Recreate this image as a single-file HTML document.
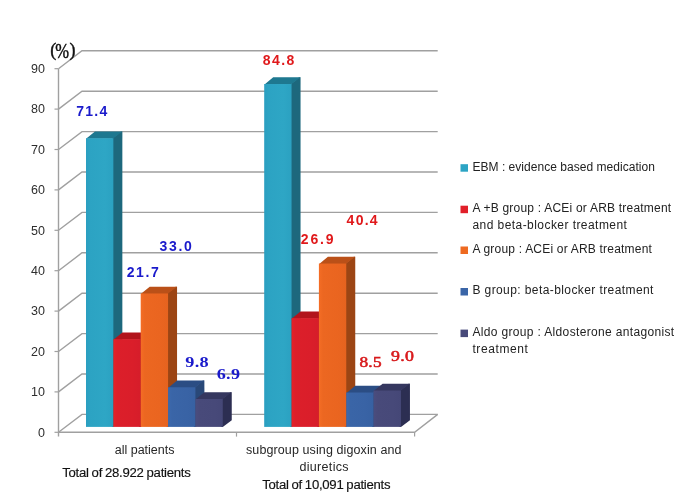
<!DOCTYPE html>
<html><head><meta charset="utf-8"><style>
html,body{margin:0;padding:0;background:#fff;}
body{width:685px;height:502px;overflow:hidden;position:relative;font-family:"Liberation Sans",sans-serif;}
svg{position:absolute;left:0;top:0;will-change:transform;}
.yl{font-size:12.5px;fill:#2e2e2e;}
.v{font-size:14px;font-weight:bold;letter-spacing:0.9px;}
.b{fill:#1a1acb;}
.r{fill:#e0191b;}
.pc{font-family:"Liberation Serif",serif;font-size:18px;fill:#111;stroke:#111;stroke-width:0.4px;}
.cl{font-size:12.5px;fill:#262626;}
.tot{font-size:12px;fill:#111;stroke:#111;stroke-width:0.15px;letter-spacing:-0.25px;word-spacing:-0.4px;}
.lg{font-size:12px;fill:#222;}
</style></head><body>
<svg width="685" height="502" viewBox="0 0 685 502">
<defs><linearGradient id="g0" x1="0" y1="0" x2="1" y2="0"><stop offset="0" stop-color="#2a9ec0"/><stop offset="0.15" stop-color="#2ca3c3"/><stop offset="0.7" stop-color="#2ea6c5"/><stop offset="1" stop-color="#2ba1c1"/></linearGradient><linearGradient id="g1" x1="0" y1="0" x2="1" y2="0"><stop offset="0" stop-color="#e52127"/><stop offset="0.15" stop-color="#dc1f2a"/><stop offset="0.7" stop-color="#da1e2a"/><stop offset="1" stop-color="#d61d2a"/></linearGradient><linearGradient id="g2" x1="0" y1="0" x2="1" y2="0"><stop offset="0" stop-color="#f46d25"/><stop offset="0.15" stop-color="#ec6721"/><stop offset="0.7" stop-color="#ea6520"/><stop offset="1" stop-color="#e6631f"/></linearGradient><linearGradient id="g3" x1="0" y1="0" x2="1" y2="0"><stop offset="0" stop-color="#3d69ad"/><stop offset="0.15" stop-color="#3a65a7"/><stop offset="0.7" stop-color="#3963a5"/><stop offset="1" stop-color="#3761a2"/></linearGradient><linearGradient id="g4" x1="0" y1="0" x2="1" y2="0"><stop offset="0" stop-color="#4b4d7e"/><stop offset="0.15" stop-color="#484a7a"/><stop offset="0.7" stop-color="#474979"/><stop offset="1" stop-color="#454777"/></linearGradient></defs>
<path d="M58.5 432.3L82 414.4H437.7" fill="none" stroke="#a0a0a0" stroke-width="1.4"/>
<path d="M54.5 432.3H58.5" stroke="#a0a0a0" stroke-width="1.2"/>
<path d="M58.5 391.9L82 374H437.7" fill="none" stroke="#a0a0a0" stroke-width="1.4"/>
<path d="M54.5 391.9H58.5" stroke="#a0a0a0" stroke-width="1.2"/>
<path d="M58.5 351.5L82 333.6H437.7" fill="none" stroke="#a0a0a0" stroke-width="1.4"/>
<path d="M54.5 351.5H58.5" stroke="#a0a0a0" stroke-width="1.2"/>
<path d="M58.5 311.1L82 293.2H437.7" fill="none" stroke="#a0a0a0" stroke-width="1.4"/>
<path d="M54.5 311.1H58.5" stroke="#a0a0a0" stroke-width="1.2"/>
<path d="M58.5 270.7L82 252.8H437.7" fill="none" stroke="#a0a0a0" stroke-width="1.4"/>
<path d="M54.5 270.7H58.5" stroke="#a0a0a0" stroke-width="1.2"/>
<path d="M58.5 230.3L82 212.4H437.7" fill="none" stroke="#a0a0a0" stroke-width="1.4"/>
<path d="M54.5 230.3H58.5" stroke="#a0a0a0" stroke-width="1.2"/>
<path d="M58.5 189.9L82 172H437.7" fill="none" stroke="#a0a0a0" stroke-width="1.4"/>
<path d="M54.5 189.9H58.5" stroke="#a0a0a0" stroke-width="1.2"/>
<path d="M58.5 149.5L82 131.6H437.7" fill="none" stroke="#a0a0a0" stroke-width="1.4"/>
<path d="M54.5 149.5H58.5" stroke="#a0a0a0" stroke-width="1.2"/>
<path d="M58.5 109.1L82 91.2H437.7" fill="none" stroke="#a0a0a0" stroke-width="1.4"/>
<path d="M54.5 109.1H58.5" stroke="#a0a0a0" stroke-width="1.2"/>
<path d="M58.5 68.7L82 50.8H437.7" fill="none" stroke="#a0a0a0" stroke-width="1.4"/>
<path d="M54.5 68.7H58.5" stroke="#a0a0a0" stroke-width="1.2"/>
<path d="M58.5 432.3H414.6L437.7 414.4" fill="none" stroke="#a0a0a0" stroke-width="1.4"/>
<path d="M58.5 68.7V436.6" stroke="#a0a0a0" stroke-width="1.4"/>
<path d="M236.5 432.3V436.6" stroke="#a0a0a0" stroke-width="1.2"/>
<path d="M414.6 432.3V436.6" stroke="#a0a0a0" stroke-width="1.2"/>
<path d="M111.85 426.9V138.83L120.85 131.53H122.35V420.2L113.35 426.9Z" fill="#1d687d"/>
<path d="M86 138.83L95 131.53H122.35L113.35 138.23V138.83Z" fill="#1e7890"/>
<rect x="86" y="138.23" width="27.35" height="288.67" fill="url(#g0)"/>
<path d="M139.2 426.9V339.77L148.2 332.47H149.7V420.2L140.7 426.9Z" fill="#9a1218"/>
<path d="M113.35 339.77L122.35 332.47H149.7L140.7 339.17V339.77Z" fill="#b2141c"/>
<rect x="113.35" y="339.17" width="27.35" height="87.73" fill="url(#g1)"/>
<path d="M166.55 426.9V294.08L175.55 286.78H177.05V420.2L168.05 426.9Z" fill="#9c4514"/>
<path d="M140.7 294.08L149.7 286.78H177.05L168.05 293.48V294.08Z" fill="#ba5018"/>
<rect x="140.7" y="293.48" width="27.35" height="133.42" fill="url(#g2)"/>
<path d="M193.9 426.9V387.88L202.9 380.58H204.4V420.2L195.4 426.9Z" fill="#294878"/>
<path d="M168.05 387.88L177.05 380.58H204.4L195.4 387.28V387.88Z" fill="#2b4d84"/>
<rect x="168.05" y="387.28" width="27.35" height="39.62" fill="url(#g3)"/>
<path d="M221.25 426.9V399.6L230.25 392.3H231.75V420.2L222.75 426.9Z" fill="#2c2e52"/>
<path d="M195.4 399.6L204.4 392.3H231.75L222.75 399V399.6Z" fill="#35375f"/>
<rect x="195.4" y="399" width="27.35" height="27.9" fill="url(#g4)"/>
<path d="M290.05 426.9V84.65L299.05 77.35H300.55V420.2L291.55 426.9Z" fill="#1d687d"/>
<path d="M264.2 84.65L273.2 77.35H300.55L291.55 84.05V84.65Z" fill="#1e7890"/>
<rect x="264.2" y="84.05" width="27.35" height="342.85" fill="url(#g0)"/>
<path d="M317.4 426.9V318.74L326.4 311.44H327.9V420.2L318.9 426.9Z" fill="#9a1218"/>
<path d="M291.55 318.74L300.55 311.44H327.9L318.9 318.14V318.74Z" fill="#b2141c"/>
<rect x="291.55" y="318.14" width="27.35" height="108.76" fill="url(#g1)"/>
<path d="M344.75 426.9V264.16L353.75 256.86H355.25V420.2L346.25 426.9Z" fill="#9c4514"/>
<path d="M318.9 264.16L327.9 256.86H355.25L346.25 263.56V264.16Z" fill="#ba5018"/>
<rect x="318.9" y="263.56" width="27.35" height="163.34" fill="url(#g2)"/>
<path d="M372.1 426.9V393.13L381.1 385.83H382.6V420.2L373.6 426.9Z" fill="#294878"/>
<path d="M346.25 393.13L355.25 385.83H382.6L373.6 392.53V393.13Z" fill="#2b4d84"/>
<rect x="346.25" y="392.53" width="27.35" height="34.37" fill="url(#g3)"/>
<path d="M399.45 426.9V391.11L408.45 383.81H409.95V420.2L400.95 426.9Z" fill="#2c2e52"/>
<path d="M373.6 391.11L382.6 383.81H409.95L400.95 390.51V391.11Z" fill="#35375f"/>
<rect x="373.6" y="390.51" width="27.35" height="36.39" fill="url(#g4)"/>
<text x="45" y="436.6" text-anchor="end" class="yl">0</text>
<text x="45" y="396.2" text-anchor="end" class="yl">10</text>
<text x="45" y="355.8" text-anchor="end" class="yl">20</text>
<text x="45" y="315.4" text-anchor="end" class="yl">30</text>
<text x="45" y="275" text-anchor="end" class="yl">40</text>
<text x="45" y="234.6" text-anchor="end" class="yl">50</text>
<text x="45" y="194.2" text-anchor="end" class="yl">60</text>
<text x="45" y="153.8" text-anchor="end" class="yl">70</text>
<text x="45" y="113.4" text-anchor="end" class="yl">80</text>
<text x="45" y="73" text-anchor="end" class="yl">90</text>
<text x="76.20" y="116.00" class="v b" textLength="31.88" lengthAdjust="spacing">71.4</text>
<text x="126.70" y="276.92" class="v b" textLength="32.98" lengthAdjust="spacing">21.7</text>
<text x="159.58" y="251.00" class="v b" textLength="33.02" lengthAdjust="spacing">33.0</text>
<text x="185.38" y="366.94" class="v b" style="font-family:'Liberation Serif',serif;font-size:14.5px;letter-spacing:0.2px" textLength="23.60" lengthAdjust="spacingAndGlyphs">9.8</text>
<text x="216.76" y="379.44" class="v b" style="font-family:'Liberation Serif',serif;font-size:14.5px;letter-spacing:0.2px" textLength="23.48" lengthAdjust="spacingAndGlyphs">6.9</text>
<text x="262.86" y="65.00" class="v r" textLength="32.22" lengthAdjust="spacing">84.8</text>
<text x="300.82" y="244.10" class="v r" textLength="33.54" lengthAdjust="spacing">26.9</text>
<text x="346.62" y="224.86" class="v r" textLength="31.94" lengthAdjust="spacing">40.4</text>
<text x="359.50" y="366.60" class="v r" style="font-family:'Liberation Serif',serif;font-size:14.5px;font-weight:normal;stroke:#d41a1c;stroke-width:0.55px;letter-spacing:0.2px" textLength="22.30" lengthAdjust="spacingAndGlyphs">8.5</text>
<text x="391.10" y="361.00" class="v r" style="font-family:'Liberation Serif',serif;font-size:14.5px;font-weight:normal;stroke:#d41a1c;stroke-width:0.55px;letter-spacing:0.2px" textLength="23.00" lengthAdjust="spacingAndGlyphs">9.0</text>
<text x="50.3" y="55.8" class="pc">(</text><text transform="translate(55.3,58) scale(0.92,1.17)" class="pc">%</text><text x="69.4" y="55.8" class="pc">)</text>
<text x="144.6" y="453.9" text-anchor="middle" class="cl">all patients</text>
<text x="246" y="454.4" class="cl" textLength="155.5" lengthAdjust="spacing">subgroup using digoxin and</text>
<text x="299.4" y="470.5" class="cl" textLength="49.2" lengthAdjust="spacing">diuretics</text>
<text x="62.2" y="476.9" class="tot" textLength="128.3" lengthAdjust="spacingAndGlyphs">Total of 28.922 patients</text>
<text x="262.2" y="489.3" class="tot" textLength="128" lengthAdjust="spacingAndGlyphs">Total of 10,091 patients</text>
<rect x="460.5" y="164.2" width="7.5" height="7.5" fill="#2ca4c4"/>
<rect x="460.5" y="205.7" width="7.5" height="7.5" fill="#e11f29"/>
<rect x="460.5" y="246.5" width="7.5" height="7.5" fill="#ee6a21"/>
<rect x="460.5" y="288" width="7.5" height="7.5" fill="#3a65a7"/>
<rect x="460.5" y="329.6" width="7.5" height="7.5" fill="#484a7a"/>
<text x="472.4" y="171.0" class="lg" textLength="182.5" lengthAdjust="spacing">EBM : evidence based medication</text>
<text x="472.4" y="212.2" class="lg" textLength="198.8" lengthAdjust="spacing">A +B group : ACEi or ARB treatment</text>
<text x="472.4" y="229.0" class="lg" textLength="154.5" lengthAdjust="spacing">and beta-blocker treatment</text>
<text x="472.4" y="253.2" class="lg" textLength="179.5" lengthAdjust="spacing">A group : ACEi or ARB treatment</text>
<text x="472.4" y="294.4" class="lg" textLength="181" lengthAdjust="spacing">B group: beta-blocker treatment</text>
<text x="472.4" y="336.3" class="lg" textLength="201.8" lengthAdjust="spacing">Aldo group : Aldosterone antagonist</text>
<text x="472.4" y="353.4" class="lg" textLength="55.5" lengthAdjust="spacing">treatment</text>
</svg>
</body></html>
